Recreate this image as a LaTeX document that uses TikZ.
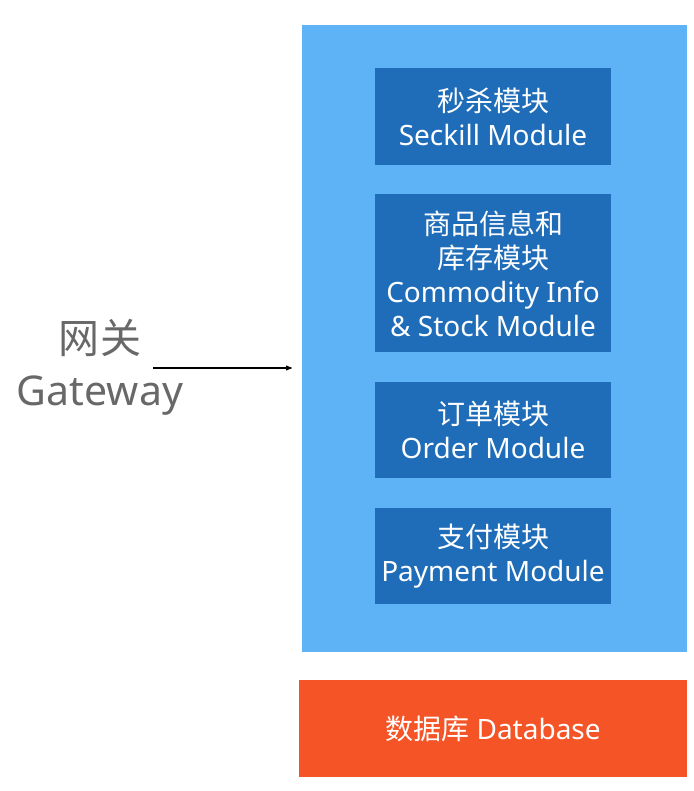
\documentclass[tikz,border=0pt]{standalone}
\usepackage{fontspec}
\setmainfont{Noto Sans}
\newfontfamily\cjk{Noto Sans CJK SC}
\usetikzlibrary{arrows,positioning}
\definecolor{sysblue}{HTML}{5EB3F6}
\definecolor{modblue}{HTML}{1F6DB8}
\definecolor{dbred}{HTML}{F55427}
\definecolor{gwgray}{HTML}{686868}
\tikzset{
>=stealth',
  layer/.style={
    rectangle,
    fill=sysblue,
    minimum width=385pt,
    minimum height=627pt,
    inner sep=0pt},
  module/.style={
    rectangle,
    fill=modblue,
    text=white,
    minimum width=236pt,
    minimum height=96pt,
    align=center,
    inner sep=0pt,
    font=\fontsize{28}{34}\selectfont},
  store/.style={
    rectangle,
    fill=dbred,
    text=white,
    minimum width=388pt,
    minimum height=97pt,
    inner sep=0pt,
    font=\fontsize{28}{34}\selectfont},
  line/.style={draw, line width=1.1pt, ->, shorten >=10pt},
}
\begin{document}
\begin{tikzpicture}[
    x=1pt, y=-1pt,
    gateway/.style={text=gwgray, align=center, font=\fontsize{41}{52}\selectfont}
    ]
    \useasboundingbox (0,0) rectangle (693,791);

    %service layer
    \node[layer] (sys) at (494.5,338.5) {};

    %modules
    \node[module, minimum height=97pt] (seckill) at (493,116.5)
        {{\cjk 秒杀模块}\\Seckill Module};
    \node[module, minimum height=158pt, below=29pt of seckill] (stock)
        {{\cjk 商品信息和}\\{\cjk 库存模块}\\Commodity Info\\\& Stock Module};
    \node[module, below=29pt of stock] (order)
        {{\cjk 订单模块}\\Order Module};
    \node[module, below=30pt of order] (payment)
        {{\cjk 支付模块}\\Payment Module};

    %database
    \node[store, below=28pt of sys, xshift=-1.5pt] (db) {{\cjk 数据库} Database};

    %gateway
    \node[gateway] (gw) at (100,367) {{\cjk 网关}\\Gateway};
    \coordinate (gwtail) at (153,368);
    \draw[line] (gwtail) -- (gwtail -| sys.west);

\end{tikzpicture}
\end{document}
